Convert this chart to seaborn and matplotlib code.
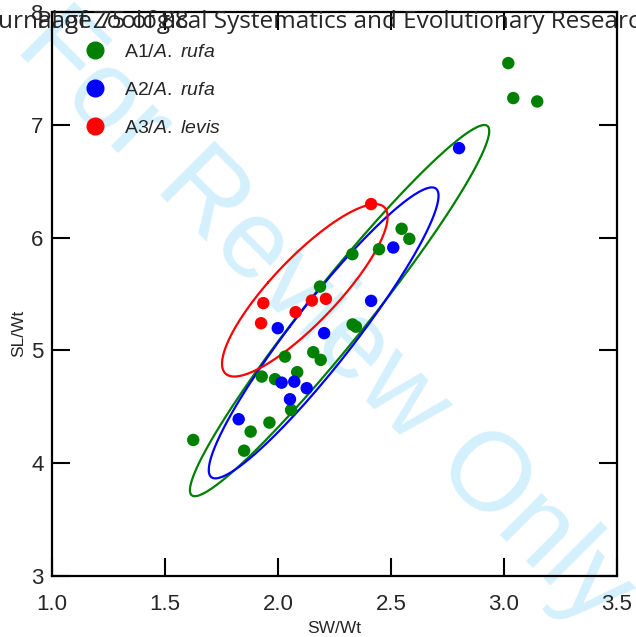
import numpy as np
import pandas as pd
import matplotlib
matplotlib.use("Agg")
import matplotlib.pyplot as plt
from matplotlib.lines import Line2D
import seaborn as sns

# values
a1_sw = [2.186, 2.031, 2.156, 2.189, 2.085, 1.928, 1.987, 1.625, 1.879, 1.962, 1.850,
         2.058, 2.329, 2.447, 2.547, 2.581, 2.330, 2.345, 3.019, 3.041, 3.147]
a1_sl = [5.566, 4.945, 4.984, 4.916, 4.807, 4.768, 4.745, 4.206, 4.280, 4.360, 4.111,
         4.472, 5.853, 5.897, 6.078, 5.989, 5.230, 5.210, 7.547, 7.237, 7.207]
a2_sw = [1.999, 2.204, 2.016, 2.072, 2.127, 2.053, 1.826, 2.510, 2.412, 2.801]
a2_sl = [5.197, 5.153, 4.714, 4.723, 4.665, 4.567, 4.390, 5.912, 5.439, 6.793]
a3_sw = [1.935, 1.925, 2.078, 2.150, 2.212, 2.412]
a3_sl = [5.419, 5.241, 5.339, 5.442, 5.457, 6.297]

groups = ["A1", "A2", "A3"]
labels = [r"A1/$\it{A.\ rufa}$", r"A2/$\it{A.\ rufa}$", r"A3/$\it{A.\ levis}$"]
colors = ["#008000", "#0000ff", "#ff0000"]
x_ticks = [1.0, 1.5, 2.0, 2.5, 3.0, 3.5]
y_ticks = [3, 4, 5, 6, 7, 8]
ellipse_p = 0.69

df = pd.concat([
    pd.DataFrame({"group": "A1", "sw": a1_sw, "sl": a1_sl}),
    pd.DataFrame({"group": "A2", "sw": a2_sw, "sl": a2_sl}),
    pd.DataFrame({"group": "A3", "sw": a3_sw, "sl": a3_sl}),
])


def ellipse_path(x, y, p, num=200):
    x = np.asarray(x, float)
    y = np.asarray(y, float)
    n = len(x)
    vals, vecs = np.linalg.eigh(np.cov(x, y))
    d2 = n - 2
    f = d2 / 2 * ((1 - p) ** (-2 / d2) - 1)
    k = np.sqrt(2 * (n - 1) / d2 * f)
    t = np.linspace(0, 2 * np.pi, num)
    circ = np.vstack([np.cos(t), np.sin(t)])
    pts = vecs @ (np.sqrt(vals)[:, None] * circ) * k
    return x.mean() + pts[0], y.mean() + pts[1]


sns.set_style("ticks")
plt.rcParams["font.family"] = ["Liberation Sans", "DejaVu Sans"]
plt.rcParams["mathtext.fontset"] = "custom"
plt.rcParams["mathtext.rm"] = "Liberation Sans"
plt.rcParams["mathtext.it"] = "Liberation Sans:italic"

fig = plt.figure(figsize=(6.36, 6.37), dpi=100)
fig.patch.set_facecolor("white")
ax = fig.add_axes([52 / 636, 61 / 637, 565 / 636, 564 / 637])
ax.patch.set_alpha(0)

fig.text(0.51, 0.5, "For Review Only", rotation=-45, ha="center", va="center",
         fontsize=80, color="#d3f0fc", zorder=-1, family="Liberation Sans")

sns.scatterplot(data=df, x="sw", y="sl", hue="group", palette=dict(zip(groups, colors)),
                s=80, linewidth=0, legend=False, ax=ax, zorder=3)

for g, c in zip(groups, colors):
    sub = df[df["group"] == g]
    ex, ey = ellipse_path(sub["sw"], sub["sl"], ellipse_p)
    ax.plot(ex, ey, color=c, lw=1.6, zorder=2)

ax.set_xlim(1.0, 3.5)
ax.set_ylim(3, 8)
ax.set_xticks(x_ticks)
ax.set_xticklabels([f"{v:.1f}" for v in x_ticks])
ax.set_yticks(y_ticks)
ax.tick_params(direction="in", length=13, width=1.5, top=True, right=True,
               labelsize=16, color="black")
ax.tick_params(axis="x", pad=13)
ax.tick_params(axis="y", pad=6)
for s in ax.spines.values():
    s.set_linewidth(1.6)
    s.set_color("black")

ax.set_xlabel("SW/Wt", fontsize=12.5, labelpad=4)
ax.set_ylabel("SL/Wt", fontsize=12.5)
ax.yaxis.set_label_coords(-0.045, 0.43)

handles = [Line2D([], [], marker="o", ls="", color=c, markersize=12) for c in colors]
ax.legend(handles, labels, loc="upper left", bbox_to_anchor=(0.01, 0.975), frameon=False,
          fontsize=14, handletextpad=0.5, labelspacing=1.05)

fig.text(-0.035, 0.965, "Journal of Zoological Systematics and Evolutionary Research",
         fontsize=17.5, family="Open Sans", va="center", ha="left")
fig.text(0.058, 0.965, "Page 75 of 88", fontsize=17.5, family="Open Sans", va="center", ha="left")

fig.savefig("out.png", dpi=100)
